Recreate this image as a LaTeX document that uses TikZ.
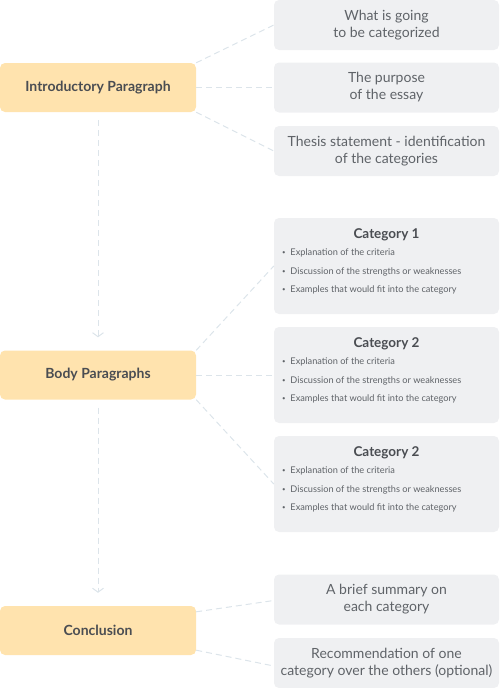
\documentclass[tikz,border=0pt]{standalone}
\usepackage{fontspec}
\setmainfont{Lato}
\usepackage{tikz}
\usetikzlibrary{arrows.meta,positioning}
\definecolor{ink}{HTML}{4A4D52}
\definecolor{softink}{HTML}{5F6368}
\definecolor{peach}{HTML}{FFE3AE}
\definecolor{panel}{HTML}{EFF0F2}
\definecolor{wire}{HTML}{DCE4EA}
\newcommand{\dotmark}{{\fontsize{6}{6}\selectfont\raisebox{0.6pt}{\textbullet}}\hspace{5pt}}
\tikzset{
  part/.style    ={rounded corners=5pt,fill=peach,minimum width=196pt,minimum height=49pt,
                   inner sep=0pt,align=center,text=ink,font=\fontsize{14}{16}\selectfont\bfseries},
  point/.style   ={rounded corners=5pt,fill=panel,minimum width=225pt,minimum height=50pt,
                   inner sep=0pt,align=center,text=softink,font=\fontsize{14}{17}\selectfont},
  catbox/.style  ={point,minimum height=96pt},
  cattitle/.style={inner sep=0pt,text=ink,font=\fontsize{13.5}{15}\selectfont\bfseries},
  bullet/.style  ={inner sep=0pt,anchor=west,text=softink,font=\fontsize{9.2}{10}\selectfont},
  link/.style    ={draw=wire,line width=1pt,dash pattern=on 6pt off 4pt},
  flow/.style    ={link,-{Straight Barb[length=4pt,width=11pt,line width=1pt]}}
}

\begin{document}
\begin{tikzpicture}[x=1pt,y=-1pt]
  \useasboundingbox (0,0) rectangle (499,688);
  % left column
  \node[part] (intro) at (98,87.5) {Introductory Paragraph};
  \node[part] (body) at (98,375) {Body Paragraphs};
  \node[part] (concl) at (98,630.5) {Conclusion};
  % right column
  \node[point] (what) at (386.5,25) {What is going\\to be categorized};
  \node[point] (purpose) at (386.5,87.5) {The purpose\\of the essay};
  \node[point] (thesis) at (386.5,151) {Thesis statement - identification\\of the categories};
  \node[catbox] (cat1) at (386.5,266) {};
  \node[catbox] (cat2) at (386.5,375) {};
  \node[catbox] (cat3) at (386.5,484) {};
  \node[point] (summary) at (386.5,599.5) {A brief summary on\\each category};
  \node[point] (recommend) at (386.5,663) {Recommendation of one\\category over the others (optional)};
  % category contents
  \node[cattitle] (cat1t) at ([yshift=-17pt]cat1.north) {Category 1};
  \node[bullet] (cat1a) at ([xshift=8pt,yshift=-35pt]cat1.north west) {\dotmark Explanation of the criteria};
  \node[bullet] (cat1b) at ([xshift=8pt,yshift=-54pt]cat1.north west) {\dotmark Discussion of the strengths or weaknesses};
  \node[bullet] (cat1c) at ([xshift=8pt,yshift=-72pt]cat1.north west) {\dotmark Examples that would fit into the category};
  \node[cattitle] (cat2t) at ([yshift=-17pt]cat2.north) {Category 2};
  \node[bullet] (cat2a) at ([xshift=8pt,yshift=-35pt]cat2.north west) {\dotmark Explanation of the criteria};
  \node[bullet] (cat2b) at ([xshift=8pt,yshift=-54pt]cat2.north west) {\dotmark Discussion of the strengths or weaknesses};
  \node[bullet] (cat2c) at ([xshift=8pt,yshift=-72pt]cat2.north west) {\dotmark Examples that would fit into the category};
  \node[cattitle] (cat3t) at ([yshift=-17pt]cat3.north) {Category 2};
  \node[bullet] (cat3a) at ([xshift=8pt,yshift=-35pt]cat3.north west) {\dotmark Explanation of the criteria};
  \node[bullet] (cat3b) at ([xshift=8pt,yshift=-54pt]cat3.north west) {\dotmark Discussion of the strengths or weaknesses};
  \node[bullet] (cat3c) at ([xshift=8pt,yshift=-72pt]cat3.north west) {\dotmark Examples that would fit into the category};
  % connectors
  \draw[link] (intro.north east) -- (what.west);
  \draw[link] (intro.east) -- (purpose.west);
  \draw[link] (intro.south east) -- (thesis.west);
  \draw[link] (body.north east) -- (cat1.west);
  \draw[link] (body.east) -- (cat2.west);
  \draw[link] (body.south east) -- (cat3.west);
  \draw[link] ([yshift=-6pt]concl.north east) -- ([yshift=-1pt]summary.west);
  \draw[link] ([yshift=5pt]concl.south east) -- ([yshift=-3pt]recommend.west);
  \draw[flow,shorten <=8pt,shorten >=13pt] (intro.south) -- (body.north);
  \draw[flow,shorten <=8pt,shorten >=13pt] (body.south) -- (concl.north);
\end{tikzpicture}
\end{document}
